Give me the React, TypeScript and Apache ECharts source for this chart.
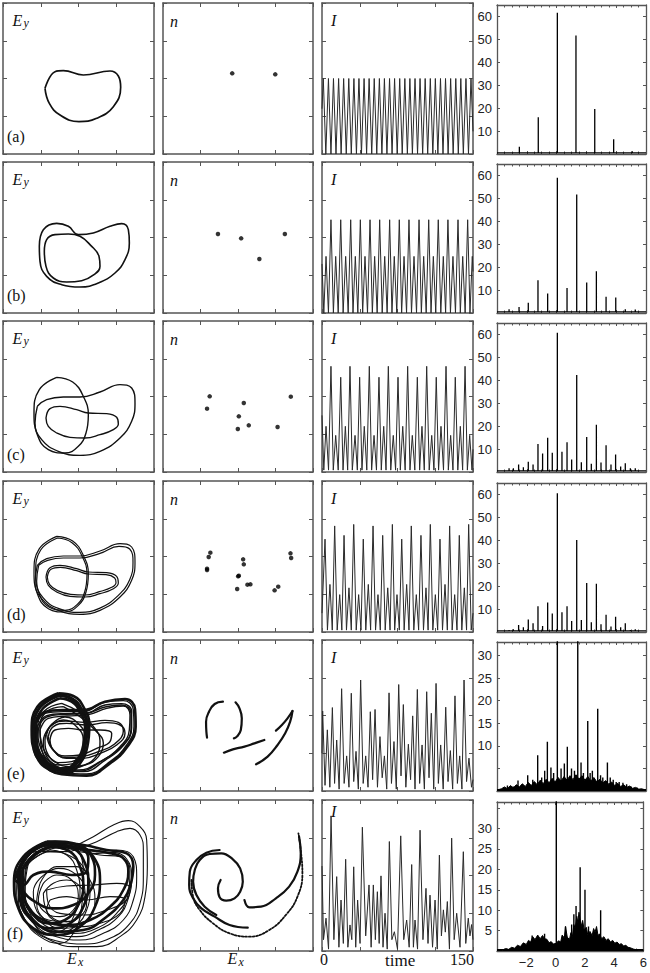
import React, { useEffect, useRef } from "react";
import * as echarts from "echarts";

// ---------------- data ----------------
// phase portraits (E_x, E_y), arbitrary units, panel spans 0..453 on both axes
const ORBIT_A = [[126,197],[156,247],[181,250],[241,237],[321,249],[346,234],[353,200],[331,142],[281,107],[228,97],[171,117],[139,152]];
const ORBIT_B_OUTER = [[109,200],[121,250],[161,269],[196,260],[226,235],[271,240],[321,260],[356,268],[376,250],[379,210],[366,160],[336,120],[286,90],[231,78],[176,85],[131,110],[111,155]];
const ORBIT_B_INNER = [[124,185],[131,220],[156,235],[196,237],[231,230],[263,203],[288,170],[291,140],[273,115],[236,97],[191,93],[151,105],[129,140]];
const ORBIT_C_T = [[161,284],[209,270],[241,227],[256,172],[249,117],[226,77],[186,57],[136,67],[103,112],[93,177],[109,247]];
const ORBIT_C_B1 = [[103,197],[131,217],[181,225],[231,225],[291,240],[351,262],[386,252],[396,207],[386,152],[351,102],[291,62],[231,50],[166,62],[116,97],[96,147]];
const ORBIT_C_B2 = [[129,162],[141,190],[171,197],[221,187],[256,177],[311,175],[341,164],[346,144],[331,127],[291,112],[246,102],[201,104],[161,117],[136,137]];
const ORBIT_D_T1 = [[161,287],[209,273],[241,230],[256,175],[249,120],[226,80],[186,60],[136,70],[103,115],[93,180],[109,250]];
const ORBIT_D_T2 = [[163,282],[207,268],[238,226],[252,173],[245,120],[223,83],[186,65],[139,74],[108,116],[98,180],[113,246]];
const ORBIT_D_B1A = [[103,200],[131,220],[181,228],[231,228],[291,243],[351,265],[386,255],[396,210],[386,155],[351,105],[291,65],[231,53],[166,65],[116,100],[96,150]];
const ORBIT_D_B1B = [[107,200],[134,215],[181,222],[231,222],[291,236],[348,257],[380,249],[390,209],[380,157],[346,110],[289,71],[231,59],[168,70],[120,103],[101,152]];
const ORBIT_D_B2A = [[129,165],[141,193],[171,200],[221,190],[256,180],[311,178],[341,167],[346,147],[331,130],[291,115],[246,105],[201,107],[161,120],[136,140]];
const ORBIT_D_B2B = [[133,165],[144,188],[172,194],[221,184],[256,174],[309,172],[335,162],[339,148],[326,134],[289,121],[246,111],[203,113],[164,124],[140,142]];
// chaotic orbits: [loop points], first ones form the dense outer band
const ORBIT_E_BAND = [
  [[166,293],[211,285],[241,253],[259,198],[253,133],[231,83],[191,53],[141,63],[101,103],[86,183],[103,253]],
  [[171,278],[206,268],[231,238],[246,193],[241,138],[221,93],[186,68],[141,78],[109,118],[98,183],[116,243]],
  [[161,288],[201,278],[231,248],[250,200],[246,140],[226,95],[190,62],[145,70],[106,108],[92,180],[108,248]],
  [[168,286],[208,277],[236,246],[253,196],[247,136],[226,88],[188,60],[141,70],[105,110],[92,183],[109,248]],
  [[93,190],[123,236],[181,243],[241,243],[306,268],[366,276],[396,246],[398,193],[374,134],[321,83],[251,46],[176,50],[116,85],[92,136]]
];
const ORBIT_E_THIN = [
  [[96,193],[126,233],[181,238],[241,238],[301,265],[361,271],[391,243],[393,193],[371,138],[321,88],[251,51],[181,55],[121,88],[96,138]],
  [[111,183],[136,218],[191,225],[251,228],[311,248],[361,255],[381,228],[379,183],[351,133],[291,88],[226,63],[161,73],[121,108]],
  [[136,163],[151,193],[191,203],[251,198],[311,205],[351,198],[366,173],[341,138],[291,113],[241,98],[191,98],[151,123]],
  [[141,153],[156,183],[196,188],[241,183],[291,183],[326,173],[321,148],[281,128],[231,108],[186,105],[151,123]],
  [[141,193],[181,213],[221,193],[241,153],[236,113],[206,88],[166,85],[136,108],[126,153]],
  [[181,253],[231,223],[276,183],[301,143],[286,103],[246,78],[201,73],[156,88],[119,133],[111,193],[131,238]],
  [[101,188],[131,226],[186,232],[246,233],[306,258],[356,262],[386,238],[386,190],[361,136],[306,92],[241,58],[176,62],[126,95],[100,140]],
  [[106,186],[131,222],[186,230],[246,232],[306,252],[356,258],[384,233],[384,186],[356,134],[296,90],[231,60],[166,68],[123,100],[104,140]],
  [[131,170],[146,198],[189,210],[246,206],[306,212],[346,206],[361,180],[336,142],[286,118],[236,103],[188,100],[146,128]],
  [[146,200],[186,222],[228,200],[248,156],[243,110],[211,82],[166,78],[131,103],[121,150]],
  [[176,263],[226,238],[266,200],[291,150],[281,106],[241,76],[196,66],[151,80],[114,126],[104,190],[124,240]]
];
const ORBIT_F_DENSE = [
  [[141,323],[211,308],[246,263],[256,203],[241,133],[201,83],[141,68],[86,93],[51,153],[46,223],[76,288]],
  [[141,313],[201,298],[231,253],[241,198],[226,138],[186,93],[136,83],[91,108],[63,163],[59,228],[86,283]],
  [[131,328],[221,318],[271,283],[291,213],[276,133],[231,73],[161,48],[91,68],[46,128],[33,208],[61,283]],
  [[51,253],[91,303],[161,325],[241,318],[311,303],[371,293],[391,253],[381,193],[361,153],[311,103],[241,63],[161,58],[91,93],[56,163]],
  [[56,243],[101,293],[166,313],[241,305],[321,293],[361,278],[376,238],[361,183],[321,133],[261,93],[191,78],[121,93],[76,133],[56,193]],
  [[46,233],[86,298],[156,328],[226,318],[266,283],[276,228],[256,173],[211,138],[151,128],[96,148],[56,188]],
  [[36,213],[71,283],[141,318],[216,313],[256,278],[251,238],[206,228],[141,238],[91,228],[61,198]]
];
const ORBIT_F_THIN = [
  [[191,303],[271,343],[331,378],[376,391],[411,373],[431,333],[433,253],[426,163],[401,93],[351,43],[281,13],[211,13],[141,33],[81,73],[46,133],[36,203],[61,273],[121,313]],
  [[201,298],[281,328],[341,358],[381,368],[411,348],[421,303],[421,223],[411,143],[381,83],[321,38],[241,21],[171,28],[101,58],[56,113],[41,183],[56,253],[101,298]],
  [[81,293],[151,323],[221,313],[281,298],[341,303],[391,283],[401,223],[391,153],[361,93],[301,53],[231,33],[161,43],[101,73],[61,133],[46,203],[56,263]],
  [[91,283],[161,313],[231,298],[291,288],[351,283],[381,243],[376,173],[341,113],[281,68],[211,53],[141,68],[91,113],[66,173],[66,238]],
  [[111,203],[161,253],[221,253],[261,213],[276,153],[261,103],[221,73],[171,68],[126,93],[101,143]],
  [[121,173],[151,203],[191,213],[236,188],[251,143],[231,103],[191,88],[151,98],[126,133]],
  [[131,183],[191,195],[271,198],[341,203],[381,188],[371,153],[311,123],[241,108],[171,113],[136,143]],
  [[51,233],[101,283],[191,313],[231,293],[241,223],[236,133],[211,53],[171,23],[111,43],[66,93],[46,163]],
  [[141,153],[191,163],[251,153],[321,163],[366,153],[351,113],[291,83],[221,73],[161,88],[131,123]],
  [[71,253],[131,303],[191,288],[221,243],[231,173],[216,113],[181,63],[131,53],[86,93],[61,163]],
  [[61,283],[131,318],[211,308],[271,293],[331,296],[371,276],[386,223],[376,158],[346,103],[286,63],[221,43],[151,53],[96,88],[56,153],[51,223]],
  [[76,263],[141,298],[206,283],[246,243],[261,183],[251,123],[221,78],[176,58],[121,68],[81,113],[66,183]],
  [[121,203],[161,228],[206,213],[226,168],[211,123],[171,103],[131,113],[106,153]],
  [[111,218],[166,248],[221,228],[246,178],[236,118],[191,88],[136,93],[96,133],[91,178]]
];

// Poincare sections (E_x, n)
const SECTION_A = [[209,242],[339,239]];
const SECTION_B = [[166,237],[236,224],[291,162],[368,237]];
const SECTION_C = [[141,227],[133,190],[244,207],[229,167],[226,129],[259,140],[346,135],[386,226]];
const SECTION_D = [[143,238],[138,225],[133,190],[133,186],[242,218],[244,203],[229,169],[227,167],[224,129],[255,142],[264,143],[337,125],[348,136],[385,236],[387,222]];
const SECTION_E = [
  [[181,268],[156,261],[139,238],[130,208],[131,178],[133,160]],
  [[219,266],[231,248],[238,218],[235,183],[223,163],[214,158]],
  [[184,115],[211,125],[246,133],[276,143],[306,153]],
  [[391,240],[384,208],[369,173],[346,138],[316,103],[281,80]],
  [[391,240],[376,218],[359,198],[341,181]]
];
const SECTION_F_SOLID = [
  [[174,213],[166,188],[171,161],[191,151],[216,158],[233,178],[241,208],[233,248],[211,275],[176,293],[141,291],[111,273],[96,243],[91,208],[101,168],[126,133],[161,108]],
  [[171,303],[131,295],[101,273],[81,238],[79,198],[91,158],[116,128],[156,103],[201,78],[256,70]],
  [[246,153],[261,131],[296,133],[341,158],[381,193],[406,238],[416,293],[411,343]]
];
const SECTION_F_DOTTED = [[86,213],[91,163],[111,123],[151,83],[201,53],[261,43],[321,63],[371,108],[406,163],[421,233],[416,303],[409,353]];

// intensity time series: [time, I]
const I_A = [[0,1.2],[1.3,2],[3.8,0],[6.4,2],[8.9,0],[11.4,2],[13.9,0],[16.5,2],[19.0,0],[21.5,2],[24.1,0],[26.6,2],[29.1,0],[31.7,2],[34.2,0],[36.7,2],[39.2,0],[41.8,2],[44.3,0],[46.8,2],[49.4,0],[51.9,2],[54.4,0],[57.0,2],[59.5,0],[62.0,2],[64.5,0],[67.1,2],[69.6,0],[72.1,2],[74.7,0],[77.2,2],[79.7,0],[82.3,2],[84.8,0],[87.3,2],[89.8,0],[92.4,2],[94.9,0],[97.4,2],[100.0,0],[102.5,2],[105.0,0],[107.6,2],[110.1,0],[112.6,2],[115.1,0],[117.7,2],[120.2,0],[122.7,2],[125.3,0],[127.8,2],[130.3,0],[132.9,2],[135.4,0],[137.9,2],[140.4,0],[143.0,2],[145.5,0],[148.0,2],[150,0.6]];
const I_B = [[0,1.3],[1.8,0],[4.0,1.5],[6.4,0],[8.9,2.47],[11.3,0],[13.6,1.5],[16.1,0],[18.6,2.47],[21.0,0],[23.5,1.5],[26.0,0],[28.5,2.47],[30.8,0],[33.1,1.5],[35.6,0],[38.1,2.47],[40.4,0],[42.7,1.5],[45.2,0],[47.7,2.47],[50.0,0],[52.3,1.5],[54.8,0],[57.3,2.47],[59.8,0],[62.3,1.5],[64.7,0],[67.2,2.47],[69.5,0],[71.8,1.5],[74.3,0],[76.8,2.47],[79.1,0],[81.5,1.5],[84.0,0],[86.4,2.47],[88.9,0],[91.4,1.5],[93.9,0],[96.4,2.47],[98.7,0],[101.0,1.5],[103.5,0],[106.0,2.47],[108.3,0],[110.6,1.5],[113.0,0],[115.5,2.47],[118.0,0],[120.5,1.5],[122.8,0],[125.1,2.47],[127.6,0],[130.1,1.5],[132.6,0],[135.1,2.47],[137.4,0],[139.8,1.5],[142.2,0],[144.7,2.47],[147.0,0],[149.3,1.5],[150,1.1]];
const I_C = [[0,1.5],[1.8,0.05],[4.0,1.21],[6.5,0.05],[8.9,2.8],[11.2,0.05],[13.6,0.97],[16.1,0.05],[18.6,2.51],[20.9,0.05],[23.2,1.21],[25.5,0.05],[27.8,2.8],[30.1,0.05],[32.8,0.97],[35.1,0.05],[37.4,2.51],[39.7,0.05],[42.0,1.21],[44.5,0.05],[47.0,2.8],[49.3,0.05],[51.7,0.97],[54.1,0.05],[56.6,2.51],[58.9,0.05],[61.3,1.21],[63.6,0.05],[65.9,2.8],[68.3,0.05],[70.8,0.97],[73.1,0.05],[75.5,2.51],[77.8,0.05],[80.2,1.21],[82.6,0.05],[85.1,2.8],[87.4,0.05],[89.7,0.97],[92.2,0.05],[94.7,2.51],[97.0,0.05],[99.3,1.21],[101.6,0.05],[104.0,2.8],[106.5,0.05],[109.0,0.97],[111.2,0.05],[113.5,2.51],[115.8,0.05],[118.2,1.21],[120.7,0.05],[123.2,2.8],[125.5,0.05],[127.8,0.97],[130.1,0.05],[132.4,2.51],[134.9,0.05],[137.4,1.21],[139.7,0.05],[142.1,2.8],[144.4,0.05],[146.7,0.97],[149.0,0.05],[150,0.6]];
const I_D = [[0,0.5],[3.0,2.46],[5.4,0.05],[7.9,1.26],[10.2,0.05],[12.6,2.81],[15.1,0.05],[17.6,0.99],[19.7,0.05],[21.9,2.56],[24.3,0.05],[26.8,1.17],[29.1,0.05],[31.5,2.85],[34.0,0.05],[36.4,0.99],[38.7,0.05],[41.0,2.46],[43.5,0.05],[46.0,1.26],[48.3,0.05],[50.7,2.81],[53.2,0.05],[55.6,0.99],[57.9,0.05],[60.3,2.56],[62.8,0.05],[65.3,1.17],[67.6,0.05],[69.9,2.85],[72.2,0.05],[74.5,0.99],[76.8,0.05],[79.2,2.46],[81.6,0.05],[84.1,1.26],[86.4,0.05],[88.7,2.81],[91.2,0.05],[93.7,0.99],[96.0,0.05],[98.3,2.56],[100.8,0.05],[103.3,1.17],[105.4,0.05],[107.6,2.85],[110.1,0.05],[112.6,0.99],[114.9,0.05],[117.2,2.46],[119.7,0.05],[122.2,1.26],[124.5,0.05],[126.8,2.81],[129.3,0.05],[131.8,0.99],[134.1,0.05],[136.4,2.56],[138.9,0.05],[141.4,1.17],[143.6,0.05],[145.7,2.85],[148.2,0.05],[150,0.5]];
const I_E = [[0,1.0],[0.66,2.12],[3.0,0.15],[5.3,1.62],[7.8,0.1],[10.3,2.21],[12.5,0.2],[14.6,1.35],[17.0,0.05],[19.5,2.71],[22.0,0.2],[24.5,0.93],[26.8,0.1],[29.1,2.59],[31.5,0.25],[33.8,1.05],[36.1,0.05],[38.4,2.94],[40.9,0.2],[43.4,0.93],[45.7,0.1],[48.0,2.1],[50.3,0.3],[52.7,2.16],[55.1,0.1],[57.6,1.44],[59.8,0.35],[62.0,0.93],[64.3,0.05],[66.6,2.6],[69.0,0.2],[71.5,1.31],[73.8,0.05],[76.2,2.82],[78.5,0.4],[80.8,2.29],[83.3,0.1],[85.8,1.24],[88.0,0.3],[90.1,1.99],[92.4,0.05],[94.7,2.69],[97.0,0.2],[99.4,1.22],[101.7,0.05],[104.0,2.63],[106.3,0.35],[108.6,2.06],[111.0,0.05],[113.3,2.85],[115.6,0.2],[117.9,1.22],[120.4,0.05],[122.9,2.22],[125.2,0.25],[127.5,1.07],[129.8,0.05],[132.1,2.52],[134.5,0.2],[136.8,0.93],[139.0,0.05],[141.1,2.94],[143.6,0.25],[146.0,0.87],[148.5,0.1],[150,0.3]];
const I_F = [[0,2.25],[1.5,0.3],[4.0,0.87],[6.5,0.05],[9.0,3.58],[11.8,0.3],[14.6,1.97],[16.8,0.1],[18.9,1.35],[21.2,0.2],[23.5,2.43],[25.7,0.1],[27.8,0.69],[29.6,0.3],[31.5,2.23],[33.5,0.1],[35.4,1.35],[37.8,0.2],[40.1,3.28],[43.4,0.4],[46.7,1.75],[48.8,0.1],[51.0,1.75],[53.0,0.3],[55.0,1.57],[56.8,0.2],[58.6,1.99],[60.6,0.1],[62.6,1.0],[64.8,0.05],[66.9,2.9],[69.4,0.3],[71.9,0.51],[75.0,0.05],[78.2,3.05],[81.2,0.3],[84.1,0.82],[86.6,0.1],[89.1,2.29],[90.8,0.1],[92.4,0.82],[94.9,0.05],[97.4,3.2],[100.3,0.3],[103.3,1.66],[105.3,0.2],[107.3,1.48],[109.8,0.1],[112.3,1.35],[114.5,0.05],[116.6,2.54],[118.6,0.4],[120.6,1.09],[122.5,0.5],[124.5,1.31],[126.6,0.05],[128.8,2.99],[131.3,0.3],[133.8,1.0],[137.1,0.1],[140.4,2.63],[142.8,0.2],[145.3,0.87],[147.0,0.4],[148.6,0.7],[150,0.3]];

// spectra: [frequency, amplitude]
const SPEC_A = [[-2.50,3.2],[-1.23,16],[0.05,61.6],[1.30,51.7],[2.56,19.6],[3.83,6.4],[5.08,1.2]];
const SPEC_B = [[-3.19,1.6],[-2.52,2.6],[-1.90,4.5],[-1.25,14.3],[-0.60,8.5],[0.05,59],[0.70,10.9],[1.35,51.7],[2.02,13.3],[2.67,18.2],[3.32,7.1],[3.97,6.8],[4.61,1.6],[5.28,1.5]];
const SPEC_CD_FREQ = [-3.19,-2.90,-2.55,-2.23,-1.90,-1.58,-1.25,-0.94,-0.60,-0.29,0.05,0.36,0.70,1.01,1.35,1.66,2.02,2.33,2.67,2.98,3.32,3.65,3.96,4.30,4.61,4.95,5.28];
const SPEC_C_AMP = [1.6,1.6,3.3,2.1,4.5,3.3,12.2,8.1,14.9,8.4,60.8,8.8,13.0,5.5,42.3,4.3,15.3,3.6,20.6,4.1,11.7,3.3,7.6,2.4,3.8,1.6,1.6];
const SPEC_D_AMP = [0.9,1.2,3.1,2.1,5.5,3.8,11.2,2.6,12.9,8.1,60.5,8.6,11.2,4.8,40.1,5.2,21.4,4.2,21.1,3.4,7.5,2.4,6.7,2.1,3.8,0.9,1.2];
const SPEC_E_FLOOR = [[-4,0.2],[-3.7,0.5],[-3.5,0.9],[-3.3,0.5],[-3.1,1.2],[-2.9,0.7],[-2.7,1.4],[-2.5,0.9],[-2.3,1.6],[-2.1,1.0],[-1.9,1.9],[-1.7,1.2],[-1.5,2.1],[-1.3,1.4],[-1.1,2.4],[-0.9,1.6],[-0.7,2.6],[-0.5,1.8],[-0.3,2.8],[-0.1,2.0],[0.1,3.0],[0.3,2.2],[0.5,3.2],[0.7,2.4],[0.9,3.4],[1.1,2.5],[1.3,3.6],[1.5,2.6],[1.7,3.4],[1.9,2.4],[2.1,3.2],[2.3,2.2],[2.5,3.0],[2.7,2.0],[2.9,2.6],[3.1,1.8],[3.3,2.3],[3.5,1.5],[3.7,2.0],[3.9,1.2],[4.1,1.7],[4.3,1.0],[4.5,1.4],[4.7,0.8],[4.9,1.1],[5.1,0.6],[5.3,0.8],[5.5,0.4],[5.7,0.5],[6,0.2]];
const SPEC_E_PEAKS = [[-3.3,1.2],[-2.9,1.0],[-2.59,2.3],[-2.3,1.5],[-1.94,3.5],[-1.6,2.5],[-1.27,7.9],[-1.0,3.0],[-0.8,4.5],[-0.62,10.9],[-0.38,5.2],[-0.2,4],[0.05,60],[0.3,5],[0.52,6.1],[0.72,9.8],[1.0,5],[1.2,4.5],[1.42,52],[1.64,6.3],[1.8,4],[2.09,15.5],[2.25,4],[2.4,4.5],[2.76,18.2],[2.95,3.5],[3.1,3],[3.41,6.3],[3.6,3],[3.8,2.5],[4.0,2],[4.2,2],[4.45,1.8],[4.7,1.5],[5.0,1.0],[5.4,0.8]];
const SPEC_F_FLOOR = [[-4,0.1],[-3.8,0.3],[-3.6,0.2],[-3.4,0.6],[-3.2,0.4],[-3.0,0.9],[-2.8,0.7],[-2.6,1.4],[-2.4,1.1],[-2.2,2.0],[-2.0,1.6],[-1.85,2.6],[-1.7,2.2],[-1.56,3.5],[-1.4,2.8],[-1.22,3.9],[-1.05,3.0],[-0.89,3.8],[-0.75,3.0],[-0.6,2.9],[-0.44,2.0],[-0.3,2.3],[-0.15,1.7],[0.05,1.9],[0.2,2.5],[0.35,2.2],[0.45,3.9],[0.6,3.2],[0.68,6],[0.8,3.4],[0.95,2.8],[1.05,4.5],[1.15,3.5],[1.25,6.5],[1.34,5.5],[1.45,8.5],[1.52,7.0],[1.6,9.5],[1.75,6.0],[1.85,7.5],[1.95,5.2],[2.1,5.8],[2.2,4.0],[2.35,4.8],[2.5,3.8],[2.6,5.5],[2.7,4.6],[2.8,6.0],[2.9,3.8],[3.0,4.2],[3.15,3.0],[3.3,3.5],[3.45,2.6],[3.6,3.0],[3.75,2.2],[3.9,2.6],[4.05,1.9],[4.2,2.2],[4.35,1.6],[4.5,1.8],[4.65,1.2],[4.8,1.4],[4.95,0.9],[5.1,0.8],[5.3,0.5],[5.5,0.3],[5.7,0.2],[6,0.1]];
const SPEC_F_PEAKS = [[-1.6,3.8],[-0.75,4.2],[0.05,60],[0.68,6],[1.1,6.5],[1.25,9],[1.4,11],[1.68,20.5],[2.01,15],[2.25,6],[3.08,10]];

const ROW_TAGS = ["(a)", "(b)", "(c)", "(d)", "(e)", "(f)"];
const SPEC_Y_MAX = [65, 65, 65, 65, 33, 36.5];
const SPEC_Y_STEP = [10, 10, 10, 10, 5, 5];
const SPEC_Y_LABEL_MIN = [10, 10, 10, 10, 10, 5];
const SPEC_Y_LABEL_MAX = [60, 60, 60, 60, 30, 30];

// ---------------- layout ----------------
const PANEL_LEFT = [3, 163, 322, 497];
const PANEL_WIDTH = [151, 150, 151, 149];
const ROW_TOP = [3, 162, 321, 481, 640, 800];
const PANEL_HEIGHT = 151;

const FRAME = "#555";
const SERIF = '"Liberation Serif", "DejaVu Serif", serif';
const SANS = '"Liberation Sans", Arial, sans-serif';

function closeLoop(pts: number[][]) {
  return [...pts, pts[0]];
}

function sticks(peaks: number[][], base: number) {
  const sorted = [...peaks].sort((a, b) => a[0] - b[0]);
  const d: number[][] = [[-4, base]];
  for (const [f, h] of sorted) {
    d.push([f, base], [f, h], [f, base]);
  }
  d.push([6, base]);
  return d;
}

function buildOption() {
  const grid: any[] = [];
  const xAxis: any[] = [];
  const yAxis: any[] = [];
  const series: any[] = [];
  const graphic: any[] = [];

  const axisBase = (gridIndex: number) => ({
    gridIndex,
    type: "value",
    splitLine: { show: false },
    axisLine: { show: true, onZero: false, lineStyle: { color: FRAME, width: 1.5 } },
    axisTick: { show: true, inside: true, length: 4, lineStyle: { color: FRAME, width: 1 } },
    axisLabel: { show: false },
  });

  let g = 0;
  const addPanel = (r: number, c: number, xr: number[], yr: number[], extra?: any) => {
    const top = c === 3 ? ROW_TOP[r] + 2 : ROW_TOP[r];
    const height = c === 3 ? PANEL_HEIGHT - 2 : PANEL_HEIGHT;
    grid.push({ left: PANEL_LEFT[c], top, width: PANEL_WIDTH[c], height, containLabel: false });
    const bx: any = { ...axisBase(g), position: "bottom", min: xr[0], max: xr[1], interval: xr[2] };
    const tx: any = { ...axisBase(g), position: "top", min: xr[0], max: xr[1], interval: xr[2] };
    const ly: any = { ...axisBase(g), position: "left", min: yr[0], max: yr[1], interval: yr[2] };
    const ry: any = { ...axisBase(g), position: "right", min: yr[0], max: yr[1], interval: yr[2] };
    if (extra) extra(bx, tx, ly, ry);
    xAxis.push(bx, tx);
    yAxis.push(ly, ry);
    const idx = g;
    g++;
    return { xAxisIndex: 2 * idx, yAxisIndex: 2 * idx };
  };

  const loop = (ax: any, pts: number[][], width: number, color = "#111") => {
    series.push({
      type: "line", ...ax, data: closeLoop(pts), smooth: 0.45, showSymbol: false, silent: true,
      lineStyle: { color, width },
    });
  };
  const curve = (ax: any, pts: number[][], width: number, type = "solid") => {
    series.push({
      type: "line", ...ax, data: pts, smooth: 0.45, showSymbol: false, silent: true,
      lineStyle: { color: "#111", width, type, cap: "round" },
    });
  };
  const dots = (ax: any, pts: number[][]) => {
    series.push({ type: "scatter", ...ax, data: pts, symbolSize: 4.5, itemStyle: { color: "#000" }, silent: true });
  };

  const orbits = [
    [{ loops: [ORBIT_A], w: 1.7 }],
    [{ loops: [ORBIT_B_OUTER, ORBIT_B_INNER], w: 1.6 }],
    [{ loops: [ORBIT_C_T, ORBIT_C_B1, ORBIT_C_B2], w: 1.4 }],
    [{ loops: [ORBIT_D_T1, ORBIT_D_T2, ORBIT_D_B1A, ORBIT_D_B1B, ORBIT_D_B2A, ORBIT_D_B2B], w: 1.2 }],
    [{ loops: ORBIT_E_BAND, w: 2.6 }, { loops: ORBIT_E_THIN, w: 1.4 }],
    [{ loops: ORBIT_F_DENSE, w: 2.6 }, { loops: ORBIT_F_THIN, w: 1.1 }],
  ];
  const times = [I_A, I_B, I_C, I_D, I_E, I_F];

  for (let r = 0; r < 6; r++) {
    // column 1: E_y vs E_x
    const a1 = addPanel(r, 0, [0, 453, 113.25], [0, 453, 113.25]);
    for (const set of orbits[r]) for (const l of set.loops) loop(a1, l, set.w);

    // column 2: n vs E_x
    const a2 = addPanel(r, 1, [0, 453, 113.25], [0, 453, 113.25]);
    if (r === 0) dots(a2, SECTION_A);
    if (r === 1) dots(a2, SECTION_B);
    if (r === 2) dots(a2, SECTION_C);
    if (r === 3) dots(a2, SECTION_D);
    if (r === 4) for (const s of SECTION_E) curve(a2, s, 2.2);
    if (r === 5) {
      for (const s of SECTION_F_SOLID) curve(a2, s, 2.2);
      curve(a2, SECTION_F_DOTTED, 1.8, "dotted");
    }

    // column 3: I vs time
    const a3 = addPanel(r, 2, [0, 150, 37.5], [0, 4, 1]);
    series.push({
      type: "line", ...a3, data: times[r], showSymbol: false, silent: true,
      lineStyle: { color: "#2a2a2a", width: 1 },
    });

    // column 4: spectrum
    const a4 = addPanel(r, 3, [-4, 6, 2], [0, SPEC_Y_MAX[r], SPEC_Y_STEP[r]], (bx: any, tx: any, ly: any, ry: any) => {
      const minor = { show: true, splitNumber: 4, length: 2.5, lineStyle: { color: FRAME, width: 1 } };
      bx.axisTick = { show: true, inside: true, length: 3, lineStyle: { color: FRAME, width: 1 } };
      tx.axisTick = { ...bx.axisTick };
      bx.minorTick = minor;
      tx.minorTick = minor;
      bx.axisLine = { ...bx.axisLine, lineStyle: { color: FRAME, width: 1.3 } };
      tx.axisLine = { ...bx.axisLine };
      ly.axisLine = { ...bx.axisLine };
      ry.axisLine = { ...bx.axisLine };
      ly.axisTick = { show: true, inside: true, length: 3, lineStyle: { color: FRAME, width: 1 } };
      ry.axisTick = { ...ly.axisTick };
      const step = SPEC_Y_STEP[r];
      const lo = SPEC_Y_LABEL_MIN[r];
      const hi = SPEC_Y_LABEL_MAX[r];
      ly.axisLabel = {
        show: true, margin: 5, fontFamily: SANS, fontSize: 13, color: "#222",
        formatter: (v: number) => (Math.abs(v / step - Math.round(v / step)) < 1e-6 && v >= lo && v <= hi ? String(v) : ""),
      };
      if (r === 5) {
        bx.axisLabel = {
          show: true, margin: 5, fontFamily: SANS, fontSize: 13, color: "#222",
          formatter: (v: number) => (v <= -3.99 ? "" : v < 0 ? "\u2212" + Math.abs(v) : String(v)),
        };
      }
    });
    if (r === 0) series.push({ type: "line", ...a4, data: sticks(SPEC_A, 0.5), showSymbol: false, silent: true, lineStyle: { color: "#000", width: 1.3 } });
    if (r === 1) series.push({ type: "line", ...a4, data: sticks(SPEC_B, 0.5), showSymbol: false, silent: true, lineStyle: { color: "#000", width: 1.3 } });
    if (r === 2 || r === 3) {
      const amps = r === 2 ? SPEC_C_AMP : SPEC_D_AMP;
      const peaks = SPEC_CD_FREQ.map((f, i) => [f, amps[i]]);
      series.push({ type: "line", ...a4, data: sticks(peaks, 0.5), showSymbol: false, silent: true, lineStyle: { color: "#000", width: 1.3 } });
    }
    if (r === 4 || r === 5) {
      const floor = r === 4 ? SPEC_E_FLOOR : SPEC_F_FLOOR;
      const peaks = r === 4 ? SPEC_E_PEAKS : SPEC_F_PEAKS;
      series.push({ type: "line", ...a4, data: floor, showSymbol: false, silent: true, lineStyle: { color: "#000", width: 1 }, areaStyle: { color: "#000", opacity: 1 } });
      series.push({ type: "line", ...a4, data: sticks(peaks, 0.3), showSymbol: false, silent: true, lineStyle: { color: "#000", width: 1.4 } });
    }

    // texts
    const top = ROW_TOP[r];
    graphic.push(
      { type: "text", x: 12.5, y: top + 9.5, style: { text: "E", font: `italic 16px ${SERIF}`, fill: "#111", align: "left", verticalAlign: "top" } },
      { type: "text", x: 23.5, y: top + 14, style: { text: "y", font: `italic 12px ${SERIF}`, fill: "#111", align: "left", verticalAlign: "top" } },
      { type: "text", x: 170, y: top + 10, style: { text: "n", font: `italic 16px ${SERIF}`, fill: "#111", align: "left", verticalAlign: "top" } },
      { type: "text", x: 331, y: r === 5 ? top + 3 : top + 9, style: { text: "I", font: `italic 16px ${SERIF}`, fill: "#111", align: "left", verticalAlign: "top" } },
      { type: "text", x: 7, y: top + 125.5, style: { text: ROW_TAGS[r], font: `16px ${SERIF}`, fill: "#111", align: "left", verticalAlign: "top" } },
    );
  }

  // bottom axis captions
  graphic.push(
    { type: "text", x: 67, y: 950, style: { text: "E", font: `italic 16px ${SERIF}`, fill: "#111", verticalAlign: "top" } },
    { type: "text", x: 78, y: 956, style: { text: "x", font: `italic 12px ${SERIF}`, fill: "#111", verticalAlign: "top" } },
    { type: "text", x: 227.5, y: 950, style: { text: "E", font: `italic 16px ${SERIF}`, fill: "#111", verticalAlign: "top" } },
    { type: "text", x: 238.5, y: 956, style: { text: "x", font: `italic 12px ${SERIF}`, fill: "#111", verticalAlign: "top" } },
    { type: "text", x: 320, y: 951.5, style: { text: "0", font: `16px ${SERIF}`, fill: "#111", verticalAlign: "top" } },
    { type: "text", x: 385, y: 951.5, style: { text: "time", font: `17px ${SERIF}`, fill: "#111", verticalAlign: "top" } },
    { type: "text", x: 450, y: 951.5, style: { text: "150", font: `16px ${SERIF}`, fill: "#111", verticalAlign: "top" } },
  );

  return { animation: false, backgroundColor: "#fff", grid, xAxis, yAxis, series, graphic };
}

export default function App() {
  const ref = useRef<HTMLDivElement>(null);
  useEffect(() => {
    document.body.style.margin = "0";
    const chart = echarts.init(ref.current!, null, { renderer: "svg" });
    chart.setOption(buildOption() as any);
    return () => chart.dispose();
  }, []);
  return <div ref={ref} style={{ width: 650, height: 973 }} />;
}
